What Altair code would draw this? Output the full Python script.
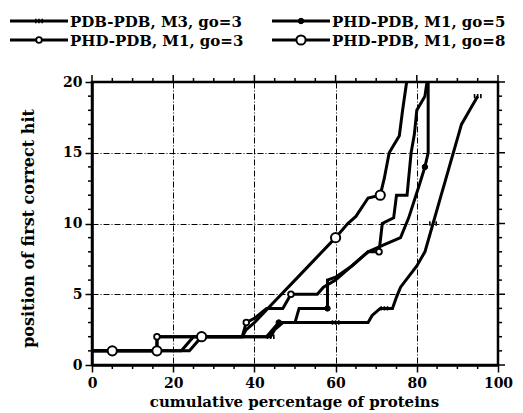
import altair as alt
import pandas as pd

series_names = ["PDB-PDB, M3, go=3", "PHD-PDB, M1, go=5", "PHD-PDB, M1, go=3", "PHD-PDB, M1, go=8"]

# PDB-PDB, M3, go=3 (rightmost curve)
s1_x = [0, 16, 24, 27, 38, 40, 44, 45, 47, 50, 68, 69, 71, 74, 75, 76, 80, 82, 84, 85, 86, 87, 88, 89, 90, 91, 93, 95]
s1_y = [1, 1, 1, 2, 2, 2, 2, 2.5, 3, 3, 3, 3.5, 4, 4, 4.8, 5.5, 7, 8, 10, 11, 12, 13, 14, 15, 16, 17, 18, 19]
s1_mx = [44, 60, 72, 84, 95]
s1_my = [2, 3, 4, 10, 19]

# PHD-PDB, M1, go=5
s2_x = [0, 16, 22, 25, 38, 43, 46, 50, 51, 58, 58, 60, 64, 68, 72, 76, 78, 80.6, 82, 82.8, 82.8]
s2_y = [1, 1, 1, 2, 2, 2, 3, 3, 4, 4, 6, 6.2, 7, 8, 8.5, 9, 10.4, 12.7, 14, 15, 20]
s2_mx = [46, 58, 82]
s2_my = [3, 4, 14]

# PHD-PDB, M1, go=3
s3_x = [0, 16, 16, 22, 37, 38, 40, 43, 47, 49, 55.5, 57, 60, 64, 68, 70.7, 71.5, 74.3, 75, 77.6, 78.6, 79.4, 80, 82, 82.5]
s3_y = [1, 1, 2, 2, 2, 3, 3.3, 4, 4, 5, 5, 5.5, 6, 7, 8, 8, 10, 10.4, 12, 12, 15, 16.3, 18, 19, 20]
s3_mx = [16, 38, 49, 70.7]
s3_my = [2, 3, 5, 8]

# PHD-PDB, M1, go=8 (leftmost curve at the top)
s4_x = [0, 5, 16, 16, 27, 37, 38, 40, 45, 50, 55, 60, 63, 65, 68, 71, 72, 73.2, 75.7, 76.5, 77.5]
s4_y = [1, 1, 1, 2, 2, 2, 2.5, 3, 4.5, 6, 7.5, 9, 10, 10.5, 11.8, 12, 13.2, 15, 16.2, 18, 20]
s4_mx = [5, 16, 27, 60, 71]
s4_my = [1, 1, 2, 9, 12]

x_major = [0, 20, 40, 60, 80, 100]
y_major = [0, 5, 10, 15, 20]
x_minor = [v for v in range(0, 101, 5) if v % 20 != 0]
y_minor = [v for v in range(0, 21) if v % 5 != 0]

FONT = "DejaVu Serif"
W, H = 406, 283


def line_frame(name, xs, ys):
    return pd.DataFrame({"series": name, "x": xs, "y": ys, "i": list(range(len(xs)))})


def mark_frame(name, xs, ys):
    return pd.DataFrame({"series": name, "x": xs, "y": ys})


lines_df = pd.concat([
    line_frame(series_names[0], s1_x, s1_y),
    line_frame(series_names[1], s2_x, s2_y),
    line_frame(series_names[2], s3_x, s3_y),
    line_frame(series_names[3], s4_x, s4_y),
], ignore_index=True)

x_scale = alt.Scale(domain=[0, 100], nice=False, zero=False)
y_scale = alt.Scale(domain=[0, 20], nice=False, zero=False)

common_axis = dict(
    domainColor="black", domainWidth=2.5, tickColor="black", tickWidth=1.5, tickSize=7,
    labelFont=FONT, labelFontWeight="bold", labelFontSize=14, labelColor="black",
    titleFont=FONT, titleFontWeight="bold", titleColor="black",
    labelOverlap=False, labelFlush=False,
    grid=True, gridColor="black", gridWidth=1, gridDash=[6, 2, 1, 2],
)

x_bottom = alt.Axis(
    values=x_major, orient="bottom", labelPadding=4,
    title="cumulative percentage of proteins",
    titleX=202, titleY=36, titleBaseline="middle", titleAlign="center", titleFontSize=15,
    **common_axis,
)
y_left = alt.Axis(
    values=y_major, orient="left", labelPadding=3,
    title="position of first correct hit",
    titleX=-64, titleY=146, titleAngle=-90, titleBaseline="middle", titleAlign="center", titleFontSize=16,
    **common_axis,
)

lines = alt.Chart(lines_df).mark_line(color="black", strokeWidth=3, clip=True).encode(
    x=alt.X("x:Q", scale=x_scale, axis=x_bottom),
    y=alt.Y("y:Q", scale=y_scale, axis=y_left),
    detail="series:N",
    order="i:Q",
)

# extra tick marks (minor ticks bottom/left, all ticks top/right)
xmin_df = pd.DataFrame({"t": x_minor})
ymin_df = pd.DataFrame({"t": y_minor})
xmaj_df = pd.DataFrame({"t": x_major})
ymaj_df = pd.DataFrame({"t": y_major})
tick_layers = [
    alt.Chart(xmin_df).mark_rule(color="black", strokeWidth=1.5).encode(
        x=alt.X("t:Q", scale=x_scale), y=alt.value(H), y2=alt.value(H + 4)),
    alt.Chart(xmin_df).mark_rule(color="black", strokeWidth=1.5).encode(
        x=alt.X("t:Q", scale=x_scale), y=alt.value(0), y2=alt.value(-4)),
    alt.Chart(xmaj_df).mark_rule(color="black", strokeWidth=1.5).encode(
        x=alt.X("t:Q", scale=x_scale), y=alt.value(0), y2=alt.value(-7)),
    alt.Chart(ymin_df).mark_rule(color="black", strokeWidth=1.5).encode(
        y=alt.Y("t:Q", scale=y_scale), x=alt.value(0), x2=alt.value(-4)),
    alt.Chart(ymin_df).mark_rule(color="black", strokeWidth=1.5).encode(
        y=alt.Y("t:Q", scale=y_scale), x=alt.value(W), x2=alt.value(W + 4)),
    alt.Chart(ymaj_df).mark_rule(color="black", strokeWidth=1.5).encode(
        y=alt.Y("t:Q", scale=y_scale), x=alt.value(W), x2=alt.value(W + 7)),
]

TICKS_SHAPE = "M-1,-0.7V0.7M0,-0.7V0.7M1,-0.7V0.7"

marker_styles = [
    dict(shape=TICKS_SHAPE, size=40, filled=False, fill=None, stroke="black", strokeWidth=1.6),
    dict(shape="circle", size=30, filled=True, fill="black", stroke="black", strokeWidth=1),
    dict(shape="circle", size=32, filled=True, fill="white", stroke="black", strokeWidth=1.8),
    dict(shape="circle", size=85, filled=True, fill="white", stroke="black", strokeWidth=2),
]
marker_data = [(s1_mx, s1_my), (s2_mx, s2_my), (s3_mx, s3_my), (s4_mx, s4_my)]


def point_mark(style):
    kw = dict(shape=style["shape"], size=style["size"], filled=style["filled"],
              stroke=style["stroke"], strokeWidth=style["strokeWidth"], opacity=1)
    if style["fill"] is not None:
        kw["fill"] = style["fill"]
    return kw


point_layers = []
for name, (mx, my), style in zip(series_names, marker_data, marker_styles):
    point_layers.append(
        alt.Chart(mark_frame(name, mx, my)).mark_point(**point_mark(style)).encode(
            x=alt.X("x:Q", scale=x_scale),
            y=alt.Y("y:Q", scale=y_scale),
        )
    )

# Legend (drawn manually, two rows by two columns above the plot)
legend_pos = [(-82, -61), (180, -61), (-82, -42), (180, -42)]
legend_layers = []
for name, (lx, ly), style in zip(series_names, legend_pos, marker_styles):
    ldf = pd.DataFrame({"label": [name]})
    legend_layers.append(
        alt.Chart(ldf).mark_rule(color="black", strokeWidth=3).encode(
            x=alt.value(lx), x2=alt.value(lx + 58), y=alt.value(ly)
        )
    )
    legend_layers.append(
        alt.Chart(ldf).mark_point(**point_mark(style)).encode(
            x=alt.value(lx + 29), y=alt.value(ly)
        )
    )
    legend_layers.append(
        alt.Chart(ldf).mark_text(
            font=FONT, fontWeight="bold", fontSize=15, color="black",
            align="left", baseline="middle"
        ).encode(x=alt.value(lx + 60), y=alt.value(ly + 1), text="label:N")
    )

chart = alt.layer(lines, *tick_layers, *point_layers, *legend_layers).properties(
    width=W, height=H,
    autosize=alt.AutoSizeParams(type="none"),
    padding={"left": 84, "top": 74, "right": 17, "bottom": 48},
    background="white",
).configure_view(stroke="black", strokeWidth=2.5)

chart.save("out.html", embed_options={"renderer": "svg", "actions": False})
